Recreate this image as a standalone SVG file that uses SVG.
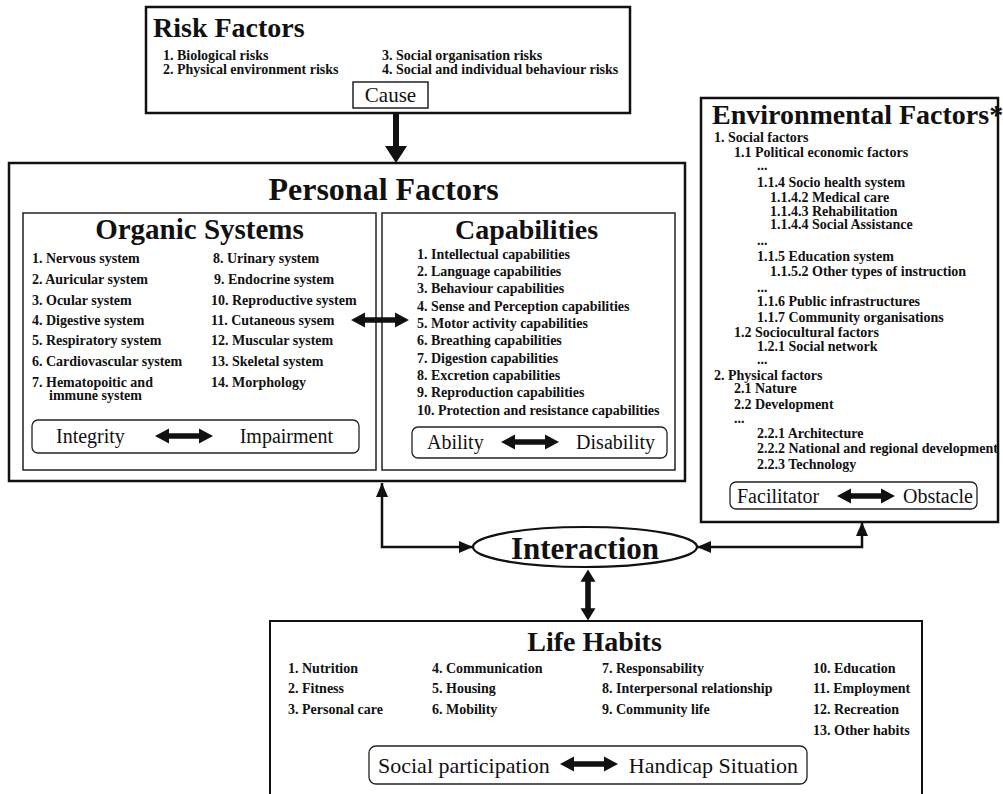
<svg xmlns="http://www.w3.org/2000/svg" width="1003" height="794" viewBox="0 0 1003 794">
<style>
text{font-family:"Liberation Serif","Times New Roman",serif;fill:#111}
.t{font-weight:bold;font-size:28px}
.h{font-weight:bold;font-size:32px}
.i{font-weight:bold;font-size:14px}
.r{font-size:20px}
.p{font-size:22px}
.box{fill:#fff;stroke:#111;stroke-width:2.5}
.in{fill:none;stroke:#222;stroke-width:1.5}
.rb{fill:none;stroke:#222;stroke-width:1.3}
.con{fill:none;stroke:#111;stroke-width:2.5}
.fa{fill:#111}
</style>
<defs>
<polygon id="dbl" class="fa" points="-29,0 -15,-7.5 -15,-2.8 15,-2.8 15,-7.5 29,0 15,7.5 15,2.8 -15,2.8 -15,7.5"/>
<marker id="ah" viewBox="0 0 14 12" refX="14" refY="6" markerWidth="14" markerHeight="12" markerUnits="userSpaceOnUse" orient="auto-start-reverse">
<path d="M0,0 L14,6 L0,12 z" fill="#111"/>
</marker>
</defs>
<rect width="1003" height="794" fill="#fff"/>

<g id="risk-factors">
<rect class="box" x="146" y="7" width="484" height="106"/>
<text class="t" x="153" y="37">Risk Factors</text>
<text class="i" x="163" y="60">1. Biological risks</text>
<text class="i" x="163" y="74">2. Physical environment risks</text>
<text class="i" x="382" y="60">3. Social organisation risks</text>
<text class="i" x="382" y="74">4. Social and individual behaviour risks</text>
<rect class="in" x="353" y="82" width="75" height="26"/>
<text class="r" x="390.5" y="102" text-anchor="middle" style="font-size:21px">Cause</text>
</g>

<g id="personal-factors">
<rect class="box" x="9" y="163" width="676" height="318"/>
<text class="h" x="383.5" y="200" text-anchor="middle">Personal Factors</text>
</g>

<g id="organic-systems">
<rect class="in" x="23" y="213" width="353" height="257"/>
<text class="t" x="199.5" y="239" text-anchor="middle" style="font-size:29px">Organic Systems</text>
<text class="i" x="32" y="263">1. Nervous system</text>
<text class="i" x="32" y="284">2. Auricular system</text>
<text class="i" x="32" y="305">3. Ocular system</text>
<text class="i" x="32" y="325">4. Digestive system</text>
<text class="i" x="32" y="345">5. Respiratory system</text>
<text class="i" x="32" y="366">6. Cardiovascular system</text>
<text class="i" x="32" y="387">7. Hematopoitic and</text>
<text class="i" x="49" y="400">immune system</text>
<text class="i" x="213" y="263">8. Urinary system</text>
<text class="i" x="214" y="284">9. Endocrine system</text>
<text class="i" x="211" y="305">10. Reproductive system</text>
<text class="i" x="211" y="325">11. Cutaneous sysem</text>
<text class="i" x="211" y="345">12. Muscular system</text>
<text class="i" x="211" y="366">13. Skeletal system</text>
<text class="i" x="211" y="387">14. Morphology</text>
<rect class="rb" x="32" y="420" width="327" height="33" rx="6"/>
<text class="r" x="56" y="443">Integrity</text>
<use href="#dbl" x="184" y="436"/>
<text class="r" x="333" y="443" text-anchor="end">Impairment</text>
</g>

<g id="capabilities">
<rect class="in" x="382" y="213" width="293" height="257"/>
<text class="t" x="526.5" y="239" text-anchor="middle">Capabilities</text>
<text class="i" x="417" y="259">1. Intellectual capabilities</text>
<text class="i" x="417" y="276">2. Language capabilities</text>
<text class="i" x="417" y="293">3. Behaviour capabilities</text>
<text class="i" x="417" y="311">4. Sense and Perception capabilities</text>
<text class="i" x="417" y="328">5. Motor activity capabilities</text>
<text class="i" x="417" y="345">6. Breathing capabilities</text>
<text class="i" x="417" y="363">7. Digestion capabilities</text>
<text class="i" x="417" y="380">8. Excretion capabilities</text>
<text class="i" x="417" y="397">9. Reproduction capabilities</text>
<text class="i" x="417" y="415">10. Protection and resistance capabilities</text>
<rect class="rb" x="412" y="427" width="255" height="31" rx="6"/>
<text class="r" x="427" y="449">Ability</text>
<use href="#dbl" x="530" y="442"/>
<text class="r" x="655" y="449" text-anchor="end">Disability</text>
</g>

<g id="environmental-factors">
<rect class="box" x="701" y="98" width="297" height="424"/>
<text class="t" x="712" y="124">Environmental Factors*</text>
<text class="i" x="714" y="142">1. Social factors</text>
<text class="i" x="734" y="157">1.1 Political economic factors</text>
<text class="i" x="757" y="170">...</text>
<text class="i" x="757" y="187">1.1.4 Socio health system</text>
<text class="i" x="770" y="202">1.1.4.2 Medical care</text>
<text class="i" x="770" y="216">1.1.4.3 Rehabilitation</text>
<text class="i" x="770" y="229">1.1.4.4 Social Assistance</text>
<text class="i" x="757" y="245">...</text>
<text class="i" x="757" y="261">1.1.5 Education system</text>
<text class="i" x="770" y="276">1.1.5.2 Other types of instruction</text>
<text class="i" x="757" y="292">...</text>
<text class="i" x="757" y="306">1.1.6 Public infrastructures</text>
<text class="i" x="757" y="322">1.1.7 Community organisations</text>
<text class="i" x="734" y="337">1.2 Sociocultural factors</text>
<text class="i" x="757" y="351">1.2.1 Social network</text>
<text class="i" x="757" y="364">...</text>
<text class="i" x="714" y="380">2. Physical factors</text>
<text class="i" x="734" y="393">2.1 Nature</text>
<text class="i" x="734" y="409">2.2 Development</text>
<text class="i" x="734" y="423">...</text>
<text class="i" x="757" y="438">2.2.1 Architecture</text>
<text class="i" x="757" y="453">2.2.2 National and regional development</text>
<text class="i" x="757" y="469">2.2.3 Technology</text>
<rect class="rb" x="730" y="482" width="247" height="27" rx="6"/>
<text class="r" x="737" y="503">Facilitator</text>
<use href="#dbl" x="866" y="496"/>
<text class="r" x="973" y="503" text-anchor="end">Obstacle</text>
</g>

<g id="interaction">
<ellipse cx="585" cy="547" rx="112" ry="20" fill="#fff" stroke="#111" stroke-width="2.2"/>
<text class="h" x="585" y="559" text-anchor="middle" style="font-size:31px">Interaction</text>
</g>

<g id="life-habits">
<rect class="box" x="270" y="621" width="652" height="200" style="stroke-width:2"/>
<text class="t" x="594.5" y="651" text-anchor="middle">Life Habits</text>
<text class="i" x="288" y="673">1. Nutrition</text>
<text class="i" x="288" y="693">2. Fitness</text>
<text class="i" x="288" y="714">3. Personal care</text>
<text class="i" x="432" y="673">4. Communication</text>
<text class="i" x="432" y="693">5. Housing</text>
<text class="i" x="432" y="714">6. Mobility</text>
<text class="i" x="602" y="673">7. Responsability</text>
<text class="i" x="602" y="693">8. Interpersonal relationship</text>
<text class="i" x="602" y="714">9. Community life</text>
<text class="i" x="813" y="673">10. Education</text>
<text class="i" x="813" y="693">11. Employment</text>
<text class="i" x="813" y="714">12. Recreation</text>
<text class="i" x="813" y="735">13. Other habits</text>
<rect class="rb" x="369" y="746" width="438" height="38" rx="7"/>
<text class="p" x="378" y="773">Social participation</text>
<use href="#dbl" x="589" y="764"/>
<text class="p" x="798" y="773" text-anchor="end">Handicap Situation</text>
</g>

<g id="connectors">
<rect x="393" y="113" width="6" height="34" class="fa"/>
<polygon class="fa" points="385,146 407,146 396,163"/>
<use href="#dbl" x="380" y="320"/>
<path class="con" d="M382,483 V547 H473" marker-start="url(#ah)" marker-end="url(#ah)"/>
<path class="con" d="M697,547 H862 V522" marker-start="url(#ah)" marker-end="url(#ah)"/>
<use href="#dbl" transform="translate(588,595) rotate(90) scale(0.88,1)"/>
</g>
</svg>
